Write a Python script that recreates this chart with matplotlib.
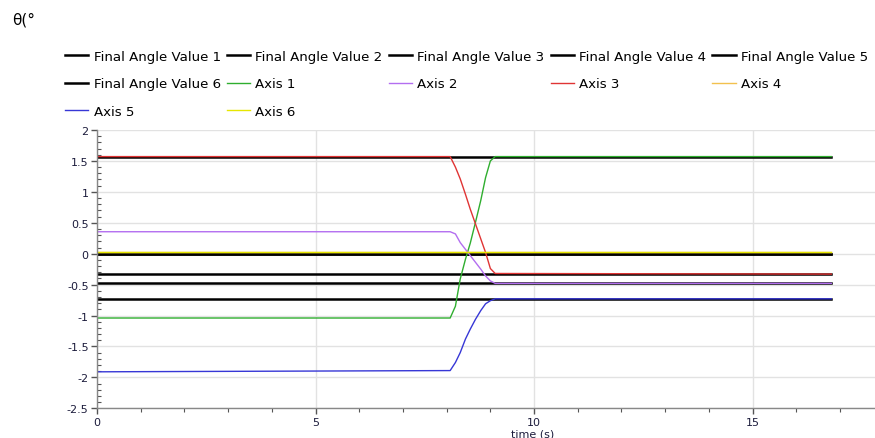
import matplotlib
matplotlib.use("Agg")
import matplotlib.pyplot as plt
from matplotlib.ticker import MultipleLocator, FormatStrFormatter

plt.rcParams['axes.unicode_minus'] = False

# time samples (s)
t = [0, 8.08, 8.20, 8.31, 8.43, 8.54, 8.66, 8.78, 8.89, 9.00, 9.11, 16.8]

axis1 = [-1.04, -1.04, -0.85, -0.41, -0.09, 0.17, 0.51, 0.86, 1.23, 1.50, 1.57, 1.57]
axis2 = [0.355, 0.355, 0.32, 0.18, 0.07, -0.03, -0.14, -0.25, -0.36, -0.44, -0.48, -0.48]
axis3 = [1.57, 1.57, 1.40, 1.21, 0.96, 0.72, 0.48, 0.24, 0.02, -0.24, -0.32, -0.33]
axis4 = [0.02] * len(t)
axis5 = [-1.91, -1.89, -1.76, -1.60, -1.38, -1.22, -1.06, -0.92, -0.81, -0.76, -0.73, -0.73]
axis6 = [0.02] * len(t)

final_values = [1.57, -0.48, -0.33, 0.0, -0.73, 0.0]
t_final = [0, 16.8]

axis_series = [axis1, axis2, axis3, axis4, axis5, axis6]
axis_colors = ['#2fae2f', '#b36ef0', '#e03434', '#f2c14e', '#3737d6', '#e6e600']

fig = plt.figure(figsize=(8.75, 4.39), dpi=100)
ax = fig.add_axes([97 / 875, 1 - 409.3 / 439, (875 - 97) / 875, 278.3 / 439])

final_lines = []
for i, v in enumerate(final_values):
    ln, = ax.plot(t_final, [v, v], color='black', lw=1.8,
                  label='Final Angle Value %d' % (i + 1))
    final_lines.append(ln)

axis_lines = []
for i, (vals, c) in enumerate(zip(axis_series, axis_colors)):
    ln, = ax.plot(t, vals, color=c, lw=1.0, label='Axis %d' % (i + 1))
    axis_lines.append(ln)

ax.set_xlim(0, 17.8)
ax.set_ylim(-2.5, 2)
ax.xaxis.set_major_locator(MultipleLocator(5))
ax.xaxis.set_minor_locator(MultipleLocator(1))
ax.yaxis.set_major_locator(MultipleLocator(0.5))
ax.yaxis.set_minor_locator(MultipleLocator(0.1))
ax.yaxis.set_major_formatter(FormatStrFormatter('%g'))
ax.xaxis.set_major_formatter(FormatStrFormatter('%g'))

ax.grid(True, which='major', color='#e2e2e2', lw=1.0)
ax.set_axisbelow(True)
for s in ['top', 'right']:
    ax.spines[s].set_visible(False)
for s in ['left', 'bottom']:
    ax.spines[s].set_color('#888888')
    ax.spines[s].set_linewidth(1.0)

ax.tick_params(axis='both', which='major', labelsize=8, colors='#555555',
               labelcolor='#1c1c3c', length=4, width=1, direction='out', pad=2)
ax.tick_params(axis='y', which='minor', length=3, width=0.8,
               colors='#555555', direction='in')
ax.tick_params(axis='x', which='minor', length=3, width=0.8,
               colors='#555555', direction='out')

# legend, row-major order as in the original
F, A = final_lines, axis_lines
order = [F[0], F[5], A[4], F[1], A[0], A[5], F[2], A[1], F[3], A[2], F[4], A[3]]
fig.legend(handles=order, labels=[h.get_label() for h in order], ncol=5,
           loc='upper left', bbox_to_anchor=(65 / 875, 1 - 51 / 439),
           frameon=False, fontsize=9.6, handlelength=1.75, handletextpad=0.4,
           columnspacing=0.45, labelspacing=1.08, borderaxespad=0, borderpad=0)

fig.text(12 / 875, 1 - 20 / 439, 'θ(°', fontsize=11, va='center', ha='left')
fig.text(533 / 875, 1 - 435 / 439, 'time (s)', fontsize=8, va='center',
         ha='center', color='#1c1c3c')

fig.savefig('out.png', dpi=100)
